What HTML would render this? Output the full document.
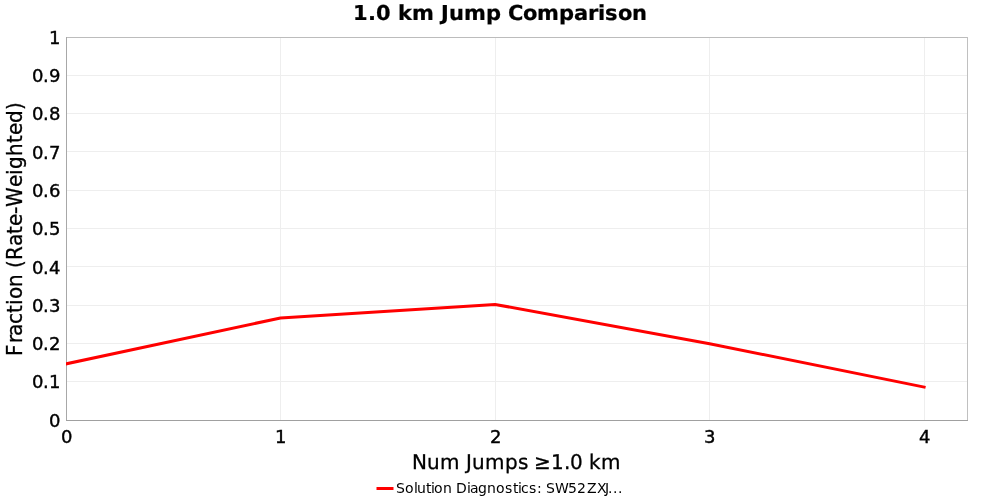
<!DOCTYPE html>
<html><head><meta charset="utf-8"><title>1.0 km Jump Comparison</title>
<style>
html,body{margin:0;padding:0;background:#fff;}
body{width:1000px;height:500px;overflow:hidden;}
svg{display:block;}
text{font-family:"DejaVu Sans","Liberation Sans",sans-serif;fill:#000;stroke:#000;stroke-width:0.3px;}
.tick{font-size:18px;stroke-width:0.4px;}
.axis{font-size:20px;}
.title{font-size:21px;font-weight:bold;stroke-width:0.25px;}
.legend{font-size:14px;stroke:none;}
</style></head><body>
<svg width="1000" height="500" viewBox="0 0 1000 500">
<defs><clipPath id="plotclip"><rect x="66" y="37" width="902" height="384"/></clipPath></defs>
<rect x="0" y="0" width="1000" height="500" fill="#ffffff"/>

<g stroke="#eeeeee" stroke-width="1" shape-rendering="crispEdges">
<line x1="66" y1="381.5" x2="968" y2="381.5"/>
<line x1="66" y1="343.5" x2="968" y2="343.5"/>
<line x1="66" y1="305.5" x2="968" y2="305.5"/>
<line x1="66" y1="266.5" x2="968" y2="266.5"/>
<line x1="66" y1="228.5" x2="968" y2="228.5"/>
<line x1="66" y1="190.5" x2="968" y2="190.5"/>
<line x1="66" y1="151.5" x2="968" y2="151.5"/>
<line x1="66" y1="113.5" x2="968" y2="113.5"/>
<line x1="66" y1="75.5" x2="968" y2="75.5"/>
<line x1="280.5" y1="37" x2="280.5" y2="421"/>
<line x1="495.5" y1="37" x2="495.5" y2="421"/>
<line x1="709.5" y1="37" x2="709.5" y2="421"/>
<line x1="924.5" y1="37" x2="924.5" y2="421"/>
</g>
<g shape-rendering="crispEdges" stroke-width="1">
<line x1="66" y1="37.5" x2="968" y2="37.5" stroke="#bcbcbc"/>
<line x1="967.5" y1="37" x2="967.5" y2="421" stroke="#c0c0c0"/>
<line x1="66.5" y1="37" x2="66.5" y2="421" stroke="#a8a8a8"/>
<line x1="66" y1="420.5" x2="968" y2="420.5" stroke="#a0a0a0"/>
</g>
<polyline clip-path="url(#plotclip)" points="66.00,363.85 280.52,317.95 495.05,304.40 709.57,343.70 924.10,387.10" fill="none" stroke="#ff0000" stroke-width="3" stroke-linejoin="round" stroke-linecap="square"/>
<text class="tick" x="49" y="427">0</text>
<text class="tick" x="32 43 49" y="388">0.1</text>
<text class="tick" x="32 43 49" y="350">0.2</text>
<text class="tick" x="32 43 49" y="312">0.3</text>
<text class="tick" x="32 43 49" y="274">0.4</text>
<text class="tick" x="32 43 49" y="235">0.5</text>
<text class="tick" x="32 43 49" y="197">0.6</text>
<text class="tick" x="32 43 49" y="159">0.7</text>
<text class="tick" x="32 43 49" y="120">0.8</text>
<text class="tick" x="32 43 49" y="82">0.9</text>
<text class="tick" x="49" y="44">1</text>
<text class="tick" x="61" y="443">0</text>
<text class="tick" x="275" y="443">1</text>
<text class="tick" x="490" y="443">2</text>
<text class="tick" x="704" y="443">3</text>
<text class="tick" x="919" y="443">4</text>
<text class="title" transform="translate(353,20) scale(1,0.98)" text-rendering="geometricPrecision" x="0 15 23 38 45 59 81 88 96 111 133 148 155 170 184 206 221 235 245 252 265 279" y="0">1.0 km Jump Comparison</text>
<text class="axis" transform="translate(412,469) scale(1,1.015)" text-rendering="geometricPrecision" x="0 15 28 48 54 60 73 93 106 116 122 139 152 158 171 177 189" y="0">Num Jumps ≥1.0 km</text>
<text class="axis" transform="translate(22,356) rotate(-90) scale(1,1.02)" x="0 13 20 32 43 51 57 69 82 88 96 110 122 130 142 149 169 181 187 200 213 221 233 246" y="0">Fraction (Rate-Weighted)</text>
<line x1="376.5" y1="488.5" x2="393.5" y2="488.5" stroke="#ff0000" stroke-width="3"/>
<text class="legend" x="396 405 414 417 426 431 434 443 452 456 467 470 478 487 496 505 513 518 521 529 537 542 546 555 568 577 587 597 605 608 613 618" y="493">Solution Diagnostics: SW52ZXJ...</text>
</svg></body></html>
